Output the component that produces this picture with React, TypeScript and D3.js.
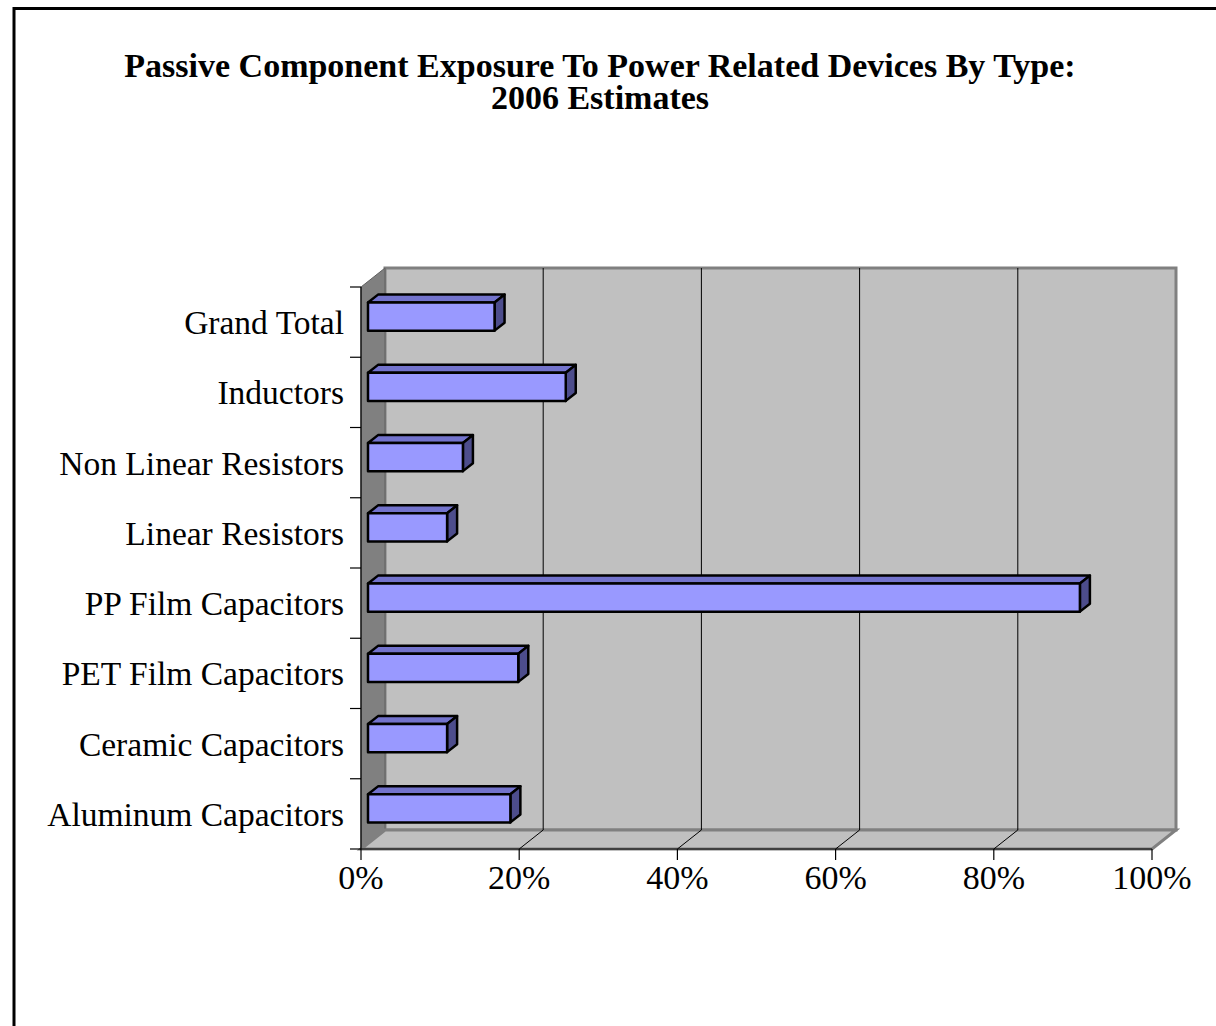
import React, { useEffect, useRef } from 'react';
import * as d3 from 'd3';

const categories = [
	'Grand Total',
	'Inductors',
	'Non Linear Resistors',
	'Linear Resistors',
	'PP Film Capacitors',
	'PET Film Capacitors',
	'Ceramic Capacitors',
	'Aluminum Capacitors',
];
const values = [16, 25, 12, 10, 90, 19, 10, 18];
const xTicks = [0, 20, 40, 60, 80, 100];
const titleLines = ['Passive Component Exposure To Power Related Devices By Type:', '2006 Estimates'];

const FONT = '"Liberation Serif", "Times New Roman", serif';

const App: React.FC = () => {
	const svgRef = useRef<SVGSVGElement | null>(null);

	useEffect(() => {
		if (!svgRef.current) return;
		const width = 1216;
		const height = 1026;

		// front plane of the 3d box
		const left = 361;
		const right = 1152;
		const top = 287;
		const bottom = 849;
		const dx = 24;
		const dy = -19;

		const x = d3.scaleLinear().domain([0, 100]).range([left, right]);
		const y = d3.scaleBand<string>().domain(categories).range([top, bottom]).paddingInner(0);

		const svg = d3.select(svgRef.current).attr('width', width).attr('height', height);
		svg.selectAll('*').remove();

		svg.append('rect').attr('width', width).attr('height', height).attr('fill', 'white');

		// outer frame
		svg
			.append('rect')
			.attr('x', 14)
			.attr('y', 8.5)
			.attr('width', width)
			.attr('height', height)
			.attr('fill', 'none')
			.attr('stroke', 'black')
			.attr('stroke-width', 3);

		// title
		svg
			.append('g')
			.attr('font-family', FONT)
			.attr('font-weight', 'bold')
			.attr('font-size', 34)
			.attr('text-anchor', 'middle')
			.selectAll('text')
			.data(titleLines)
			.join('text')
			.attr('x', 600)
			.attr('y', (d, i) => 77 + i * 32)
			.text((d) => d);

		const pts = (p: [number, number][]) => p.map((q) => q.join(',')).join(' ');

		// walls
		svg
			.append('polygon')
			.attr('points', pts([[left + dx, top + dy], [right + dx, top + dy], [right + dx, bottom + dy], [left + dx, bottom + dy]]))
			.attr('fill', '#c0c0c0')
			.attr('stroke', '#808080')
			.attr('stroke-width', 3);
		svg
			.append('polygon')
			.attr('points', pts([[left, top], [left + dx, top + dy], [left + dx, bottom + dy], [left, bottom]]))
			.attr('fill', '#808080')
			.attr('stroke', '#606060')
			.attr('stroke-width', 1);
		svg
			.append('polygon')
			.attr('points', pts([[left, bottom], [left + dx, bottom + dy], [right + dx, bottom + dy], [right, bottom]]))
			.attr('fill', '#c0c0c0')
			.attr('stroke', '#808080')
			.attr('stroke-width', 3);

		// gridlines
		const inner = xTicks.filter((t) => t > 0 && t < 100);
		svg
			.append('g')
			.attr('stroke', 'black')
			.attr('stroke-width', 1)
			.selectAll('path')
			.data(inner)
			.join('path')
			.attr('d', (t) => `M${x(t) + dx},${top + dy}V${bottom + dy}L${x(t)},${bottom}`)
			.attr('fill', 'none');

		// bars
		const f0 = 7 / 24;
		const f1 = 17 / 24;
		const barH = y.bandwidth() * 0.4;
		const bars = svg
			.append('g')
			.attr('stroke', 'black')
			.attr('stroke-width', 2.5)
			.attr('stroke-linejoin', 'round')
			.selectAll('g')
			.data(categories.map((c, i) => ({ name: c, value: values[i] })))
			.join('g');

		const face = (d: { name: string; value: number }) => {
			const cy = (y(d.name) ?? 0) + y.bandwidth() / 2;
			const x0 = x(0) + dx * f0;
			const x1 = x(d.value) + dx * f0;
			const y0 = cy - barH / 2 + dy * f0;
			const y1 = cy + barH / 2 + dy * f0;
			const ox = dx * (f1 - f0);
			const oy = dy * (f1 - f0);
			return { x0, x1, y0, y1, ox, oy };
		};

		bars
			.append('polygon')
			.attr('fill', '#7373cc')
			.attr('points', (d) => {
				const f = face(d);
				return pts([[f.x0, f.y0], [f.x0 + f.ox, f.y0 + f.oy], [f.x1 + f.ox, f.y0 + f.oy], [f.x1, f.y0]]);
			});
		bars
			.append('polygon')
			.attr('fill', '#4d4d8c')
			.attr('points', (d) => {
				const f = face(d);
				return pts([[f.x1, f.y0], [f.x1 + f.ox, f.y0 + f.oy], [f.x1 + f.ox, f.y1 + f.oy], [f.x1, f.y1]]);
			});
		bars
			.append('polygon')
			.attr('fill', '#9999ff')
			.attr('points', (d) => {
				const f = face(d);
				return pts([[f.x0, f.y0], [f.x1, f.y0], [f.x1, f.y1], [f.x0, f.y1]]);
			});

		// axes lines and ticks
		const axes = svg.append('g').attr('stroke', 'black').attr('stroke-width', 1.2).attr('fill', 'none');
		axes.append('path').attr('d', `M${left},${top}V${bottom}H${right}`);
		const bounds = categories.map((c) => y(c) ?? 0).concat([bottom]);
		axes
			.selectAll('path.ytick')
			.data(bounds)
			.join('path')
			.attr('class', 'ytick')
			.attr('d', (v) => `M${left - 11},${v}H${left}`);
		axes
			.selectAll('path.xtick')
			.data(xTicks)
			.join('path')
			.attr('class', 'xtick')
			.attr('d', (t) => `M${x(t)},${bottom}V${bottom + 11}`);

		// labels
		svg
			.append('g')
			.attr('font-family', FONT)
			.attr('font-size', 33.5)
			.attr('text-anchor', 'end')
			.selectAll('text')
			.data(categories)
			.join('text')
			.attr('x', left - 17)
			.attr('y', (c) => (y(c) ?? 0) + y.bandwidth() / 2 + 12)
			.text((c) => c);

		svg
			.append('g')
			.attr('font-family', FONT)
			.attr('font-size', 34)
			.attr('text-anchor', 'middle')
			.selectAll('text')
			.data(xTicks)
			.join('text')
			.attr('x', (t) => x(t))
			.attr('y', bottom + 40)
			.text((t) => `${t}%`);
	}, []);

	return <svg ref={svgRef} style={{ position: 'absolute', left: 0, top: 0 }}></svg>;
};

export default App;
